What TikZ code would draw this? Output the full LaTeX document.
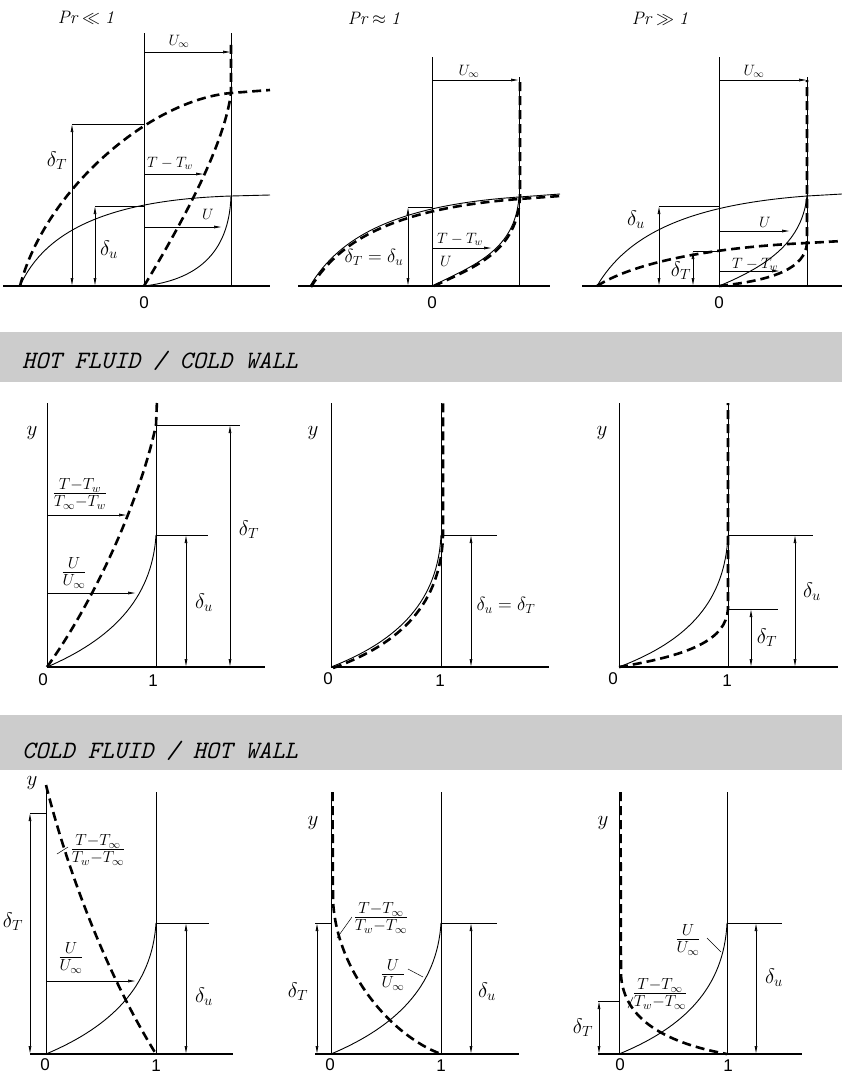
\RequirePackage{fix-cm}
\documentclass[tikz,border=0pt]{standalone}
\usepackage{fontspec}
\newfontfamily\tickfont{Liberation Sans}
\usetikzlibrary{arrows.meta}
\definecolor{bandgray}{HTML}{CCCCCC}
\tikzset{
  >={Latex[length=8pt,width=3pt]},
  every node/.style={inner sep=0pt},
  ax/.style={line width=1.3pt},
  wl/.style={line width=0.9pt},
  bl/.style={line width=2.6pt, dash pattern=on 9pt off 5pt},
  pf/.style={line width=0.9pt},
  arr/.style={line width=0.7pt,->},
  dimar/.style={line width=0.7pt,<->},
  ext/.style={line width=0.7pt},
  lead/.style={line width=0.5pt},
  lab/.style={font=\fontsize{21}{24}\selectfont},
  eqlab/.style={font=\fontsize{19}{22}\selectfont},
  ylab/.style={font=\fontsize{21}{24}\selectfont},
  sml/.style={font=\fontsize{15}{18}\selectfont},
  ttl/.style={font=\fontsize{18}{21}\selectfont},
  frc/.style={font=\fontsize{23}{27}\selectfont},
  tick/.style={font=\fontsize{17}{20}\selectfont\tickfont},
  bandtxt/.style={font=\fontsize{25}{28}\selectfont\ttfamily\itshape, anchor=base west},
}
\begin{document}
\begin{tikzpicture}[x=1pt,y=-1pt]
\useasboundingbox (0,0) rectangle (842,1077);

% ================= TOP ROW =================
% --- Pr << 1
\node[ttl] (t1) at (86,18) {$\mathit{Pr}\ll\mathit{1}$};
\draw[ax] (3,286) -- (270,286);
\draw[wl] (144,286) -- (144,33);
\draw[wl] (231,286) -- (231,33);
\draw[arr] (144,52) -- (231,52);
\node[sml] (p1ui) at (179,41) {$U_\infty$};
\draw[pf] (20,286) .. controls (45,230) and (110,200) .. (231,196) -- (270,195);
\draw[bl] (20,286) .. controls (45,190) and (150,100) .. (231,93) -- (270,90);
\draw[pf] (144,286) .. controls (195,280) and (229,255) .. (231,196);
\draw[bl] (144,286) .. controls (190,210) and (225,140) .. (231,93) -- (231,40);
\draw[ext] (72,124) -- (144,124);
\draw[dimar] (72,286) -- (72,124);
\draw[ext] (95,206) -- (144,206);
\draw[dimar] (95,286) -- (95,206);
\draw[arr] (144,174) -- (204,174);
\draw[arr] (144,227) -- (222,227);
\node[lab] (p1dt) at (57,161) {$\delta_T$};
\node[lab] (p1du) at (109,250) {$\delta_u$};
\node[sml] (p1tt) at (170,163) {$T-T_w$};
\node[sml] (p1u) at (208,214) {$U$};
\node[tick] (p1z) at (144,303) {0};

% --- Pr ~ 1
\node[ttl] (t2) at (374,18) {$\mathit{Pr}\approx\mathit{1}$};
\draw[ax] (298,286) -- (550,286);
\draw[wl] (432,286) -- (432,57);
\draw[wl] (519,286) -- (519,77);
\draw[arr] (432,80) -- (519,80);
\node[sml] (p2ui) at (469,71) {$U_\infty$};
\draw[bl] (311,287) .. controls (341,237) and (401,208) .. (519,199) -- (560,196);
\draw[pf] (310,286) .. controls (340,235) and (400,205) .. (519,197) -- (560,194);
\draw[bl] (434,286) .. controls (477,266) and (517,251) .. (520,197) -- (520,80);
\draw[pf] (432,286) .. controls (475,265) and (515,250) .. (519,197);
\draw[ext] (408,207) -- (432,207);
\draw[dimar] (408,286) -- (408,207);
\draw[arr] (432,248) -- (492,248);
\node[eqlab] (p2d) at (374,257) {$\delta_T=\delta_u$};
\node[sml] (p2tt) at (460,239) {$T-T_w$};
\node[sml] (p2u) at (446,261) {$U$};
\node[tick] (p2z) at (432,303) {0};

% --- Pr >> 1
\node[ttl] (t3) at (660,19) {$\mathit{Pr}\gg\mathit{1}$};
\draw[ax] (582,286) -- (842,286);
\draw[wl] (719,286) -- (719,57);
\draw[wl] (807,286) -- (807,77);
\draw[arr] (719,80) -- (807,80);
\node[sml] (p3ui) at (754,71) {$U_\infty$};
\draw[pf] (597,286) .. controls (627,235) and (687,205) .. (807,196) -- (842,194);
\draw[bl] (597,286) .. controls (630,265) and (700,248) .. (807,243) -- (842,241);
\draw[pf] (719,286) .. controls (770,265) and (803,240) .. (807,195);
\draw[bl] (719,286) .. controls (775,280) and (805,268) .. (807,243) -- (807,80);
\draw[ext] (659,206) -- (719,206);
\draw[dimar] (659,286) -- (659,206);
\draw[ext] (693,251) -- (719,251);
\draw[dimar] (693,286) -- (693,251);
\draw[arr] (719,231) -- (790,231);
\draw[arr] (719,271) -- (780,271);
\node[lab] (p3du) at (636,220) {$\delta_u$};
\node[lab] (p3dt) at (681,271) {$\delta_T$};
\node[sml] (p3u) at (765,222) {$U$};
\node[sml] (p3tt) at (755,264) {$T-T_w$};
\node[tick] (p3z) at (719,303) {0};

% ================= BAND 1 =================
\fill[bandgray] (0,332) rectangle (842,382);
\node[bandtxt] (b1) at (22,368) {HOT FLUID / COLD WALL};

% ================= MIDDLE ROW =================
% M1
\draw[ax] (47,667) -- (265,667);
\draw[wl] (47,667) -- (47,403);
\draw[wl] (156,667) -- (156,425);
\draw[pf] (47,667) .. controls (110,640) and (152,600) .. (156,535);
\draw[bl] (47,667) .. controls (95,600) and (140,500) .. (156,425) -- (157,400);
\draw[ext] (156,425) -- (240,425);
\draw[dimar] (230,667) -- (230,425);
\draw[ext] (156,535) -- (208,535);
\draw[dimar] (186,667) -- (186,535);
\draw[arr] (47,515) -- (127,515);
\draw[arr] (47,593) -- (136,593);
\node[frc] (m1f1) at (80,494) {$\frac{T-T_w}{T_\infty-T_w}$};
\node[frc] (m1f2) at (74,573) {$\frac{U}{U_\infty}$};
\node[lab] (m1dt) at (249,530) {$\delta_T$};
\node[lab] (m1du) at (204,603) {$\delta_u$};
\node[ylab] (m1y) at (32,433) {$y$};
\node[tick] (m1z) at (43,680) {0};
\node[tick] (m1o) at (153,681) {1};

% M2
\draw[ax] (331,667) -- (549,667);
\draw[wl] (331,667) -- (331,403);
\draw[wl] (441,667) -- (441,403);
\draw[bl] (333,668) .. controls (402,643) and (441,603) .. (443,535) -- (443,403);
\draw[pf] (331,667) .. controls (400,640) and (438,600) .. (441,535);
\draw[ext] (441,535) -- (497,535);
\draw[dimar] (471,667) -- (471,535);
\node[eqlab] (m2d) at (506,605) {$\delta_u=\delta_T$};
\node[ylab] (m2y) at (313,433) {$y$};
\node[tick] (m2z) at (328,679) {0};
\node[tick] (m2o) at (440,681) {1};

% M3
\draw[ax] (619,667) -- (838,667);
\draw[wl] (619,667) -- (619,403);
\draw[wl] (728,667) -- (728,403);
\draw[pf] (619,667) .. controls (690,640) and (725,600) .. (728,535);
\draw[bl] (619,667) .. controls (690,655) and (726,640) .. (728,609) -- (728,403);
\draw[ext] (728,535) -- (813,535);
\draw[dimar] (795,667) -- (795,535);
\draw[ext] (728,609) -- (778,609);
\draw[dimar] (751,667) -- (751,609);
\node[lab] (m3du) at (812,592) {$\delta_u$};
\node[lab] (m3dt) at (767,638) {$\delta_T$};
\node[ylab] (m3y) at (602,433) {$y$};
\node[tick] (m3z) at (613,679) {0};
\node[tick] (m3o) at (727,681) {1};

% ================= BAND 2 =================
\fill[bandgray] (0,715) rectangle (842,770);
\node[bandtxt] (b2) at (22,758) {COLD FLUID / HOT WALL};

% ================= BOTTOM ROW =================
% B1
\draw[ax] (30,1054) -- (233,1054);
\draw[wl] (46,1054) -- (46,785);
\draw[wl] (156,1054) -- (156,792);
\draw[pf] (46,1054) .. controls (110,1027) and (152,987) .. (156,923);
\draw[bl] (46,785) .. controls (70,880) and (110,980) .. (156,1054);
\draw[ext] (30,813) -- (46,813);
\draw[dimar] (30,1054) -- (30,813);
\draw[ext] (156,923) -- (209,923);
\draw[dimar] (186,1054) -- (186,923);
\draw[arr] (46,981) -- (136,981);
\node[frc] (b1f1) at (98,850) {$\frac{T-T_\infty}{T_w-T_\infty}$};
\node[frc] (b1f2) at (71,958) {$\frac{U}{U_\infty}$};
\draw[lead] (68,847) -- (57,854);
\node[lab] (b1dt) at (13,922) {$\delta_T$};
\node[lab] (b1du) at (204,997) {$\delta_u$};
\node[ylab] (b1y) at (32,783) {$y$};
\node[tick] (b1z) at (45,1065) {0};
\node[tick] (b1o) at (156,1066) {1};

% B2
\draw[ax] (315,1054) -- (519,1054);
\draw[wl] (331,1054) -- (331,792);
\draw[wl] (441,1054) -- (441,792);
\draw[pf] (331,1054) .. controls (395,1027) and (437,987) .. (441,923);
\draw[bl] (332.5,792) -- (333,900) .. controls (336,970) and (390,1035) .. (441,1054);
\draw[ext] (315,923) -- (331,923);
\draw[dimar] (317,1054) -- (317,923);
\draw[ext] (441,923) -- (497,923);
\draw[dimar] (471,1054) -- (471,923);
\node[frc] (b2f1) at (381,918) {$\frac{T-T_\infty}{T_w-T_\infty}$};
\node[frc] (b2f2) at (393,975) {$\frac{U}{U_\infty}$};
\draw[lead] (352,917) -- (337,938);
\draw[lead] (408,969) -- (423,977);
\node[lab] (b2dt) at (298,992) {$\delta_T$};
\node[lab] (b2du) at (487,992) {$\delta_u$};
\node[ylab] (b2y) at (313,823) {$y$};
\node[tick] (b2z) at (330,1065) {0};
\node[tick] (b2o) at (441,1066) {1};

% B3
\draw[ax] (598,1054) -- (802,1054);
\draw[wl] (619,1054) -- (619,792);
\draw[wl] (727,1054) -- (727,792);
\draw[pf] (619,1054) .. controls (685,1027) and (724,987) .. (727,923);
\draw[bl] (620.5,792) -- (621,975) .. controls (623,1010) and (650,1040) .. (727,1054);
\draw[ext] (598,1001) -- (619,1001);
\draw[dimar] (599,1054) -- (599,1001);
\draw[ext] (727,923) -- (782,923);
\draw[dimar] (756,1054) -- (756,923);
\node[frc] (b3f1) at (660,994) {$\frac{T-T_\infty}{T_w-T_\infty}$};
\node[frc] (b3f2) at (688,940) {$\frac{U}{U_\infty}$};
\draw[lead] (707,938) -- (721,952);
\draw[lead] (633,997) -- (628,1008);
\node[lab] (b3dt) at (583,1028) {$\delta_T$};
\node[lab] (b3du) at (774,978) {$\delta_u$};
\node[ylab] (b3y) at (603,823) {$y$};
\node[tick] (b3z) at (620,1065) {0};
\node[tick] (b3o) at (728,1066) {1};
\end{tikzpicture}
\end{document}
